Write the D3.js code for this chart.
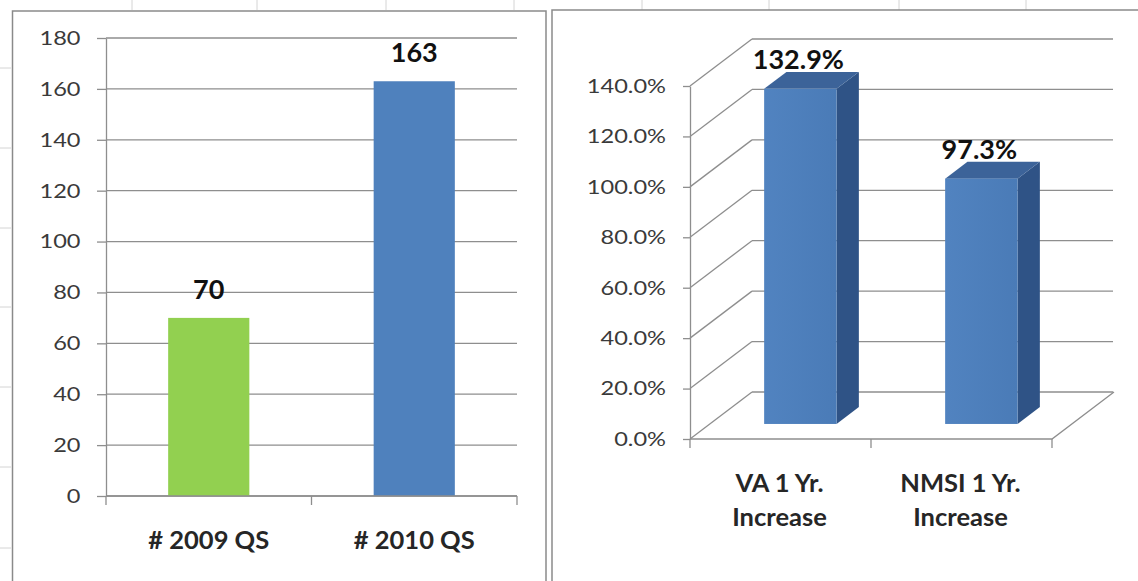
<!DOCTYPE html>
<html><head><meta charset="utf-8">
<script src="https://cdn.jsdelivr.net/npm/d3@7"></script>
<style>
body{margin:0;background:#fff}
svg{display:block}
text{font-family:Lato,"Open Sans",sans-serif}
</style>
</head><body>
<svg id="c" width="1138" height="581"></svg>
<script>
// ---------- data ----------
const leftCategories = ["# 2009 QS", "# 2010 QS"];
const leftValues = [70, 163];
const leftColors = ["#92D050", "#4F81BD"];
const leftTicks = [0, 20, 40, 60, 80, 100, 120, 140, 160, 180];

const rightCategories = ["VA 1 Yr. Increase", "NMSI 1 Yr. Increase"];
const rightLabelLines = [["VA 1 Yr.", "Increase"], ["NMSI 1 Yr.", "Increase"]];
const rightValues = [132.9, 97.3];
const rightTicks = [0, 20, 40, 60, 80, 100, 120, 140];

// ---------- setup ----------
const svg = d3.select("#c");
const gridCol = "#8e8e8e";
const faint = "#d4d4d4";
const tickScaleX = 1.18;

// faint spreadsheet cell lines peeking out
[132, 257, 386, 514, 642, 769, 899, 1026].forEach(x => {
  svg.append("line").attr("x1", x).attr("x2", x).attr("y1", 0).attr("y2", 10)
    .attr("stroke", faint).attr("stroke-width", 1);
});
[68, 148, 228, 307, 387, 467, 548].forEach(y => {
  svg.append("line").attr("x1", 0).attr("x2", 11).attr("y1", y).attr("y2", y)
    .attr("stroke", faint).attr("stroke-width", 1);
});

// panel borders
svg.append("rect").attr("x", 12.5).attr("y", 11).attr("width", 533.5).attr("height", 600)
  .attr("fill", "#fff").attr("stroke", "#8a8a8a").attr("stroke-width", 1.5);
svg.append("rect").attr("x", 552).attr("y", 10).attr("width", 600).attr("height", 600)
  .attr("fill", "#fff").attr("stroke", "#8a8a8a").attr("stroke-width", 1.5);

function styleTicks(ax, dist, size) {
  ax.selectAll("path,line").attr("stroke", gridCol).attr("stroke-width", 1.3);
  ax.selectAll("text").attr("font-size", size).attr("fill", "#3a3a3a")
    .attr("font-family", "Lato,'Open Sans',sans-serif")
    .attr("x", -dist / tickScaleX)
    .attr("transform", `scale(${tickScaleX},1)`);
}

// ---------- left chart ----------
const L = svg.append("g");
const yL = d3.scaleLinear().domain([0, 180]).range([496, 38]);
const xL = d3.scaleBand().domain(leftCategories).range([106, 517]);

L.append("g").selectAll("line").data(leftTicks).join("line")
  .attr("x1", 106).attr("x2", 517)
  .attr("y1", d => yL(d)).attr("y2", d => yL(d))
  .attr("stroke", gridCol).attr("stroke-width", 1.3);

const barWL = xL.bandwidth() * 0.395;
L.append("g").selectAll("rect").data(leftCategories).join("rect")
  .attr("x", d => xL(d) + xL.bandwidth() / 2 - barWL / 2)
  .attr("width", barWL)
  .attr("y", (d, i) => yL(leftValues[i]))
  .attr("height", (d, i) => yL(0) - yL(leftValues[i]))
  .attr("fill", (d, i) => leftColors[i]);

const axL = L.append("g").attr("transform", "translate(106,0)")
  .call(d3.axisLeft(yL).tickValues(leftTicks).tickSize(9).tickSizeOuter(0));
styleTicks(axL, 25.5, 20);

// x axis line + boundary ticks
L.append("line").attr("x1", 106).attr("x2", 517).attr("y1", yL(0)).attr("y2", yL(0))
  .attr("stroke", gridCol).attr("stroke-width", 1.3);
const boundsL = leftCategories.map(d => xL(d)).concat([xL.range()[1]]);
L.append("g").selectAll("line").data(boundsL).join("line")
  .attr("x1", d => d).attr("x2", d => d).attr("y1", yL(0)).attr("y2", yL(0) + 9)
  .attr("stroke", gridCol).attr("stroke-width", 1.3);

L.append("g").selectAll("text").data(leftCategories).join("text")
  .attr("x", d => xL(d) + xL.bandwidth() / 2).attr("y", 549)
  .attr("text-anchor", "middle").attr("font-size", 25.5).attr("font-weight", "bold")
  .attr("fill", "#262626").text(d => d);

L.append("g").selectAll("text").data(leftCategories).join("text")
  .attr("x", d => xL(d) + xL.bandwidth() / 2)
  .attr("y", (d, i) => yL(leftValues[i]) - 19)
  .attr("text-anchor", "middle").attr("font-size", 27).attr("font-weight", "bold")
  .attr("fill", "#111").text((d, i) => leftValues[i]);

// ---------- right chart (3D) ----------
const R = svg.append("g");
const yR = d3.scaleLinear().domain([0, 140]).range([439, 86]);
const xR = d3.scaleBand().domain(rightCategories).range([690, 1052]);
const DX = 62, DY = -47;        // full depth offset
const backRight = 1113;

// side wall diagonals
R.append("g").selectAll("line").data(rightTicks).join("line")
  .attr("x1", 690).attr("y1", d => yR(d))
  .attr("x2", 690 + DX).attr("y2", d => yR(d) + DY)
  .attr("stroke", gridCol).attr("stroke-width", 1.3);
// back wall horizontals
R.append("g").selectAll("line").data(rightTicks).join("line")
  .attr("x1", 690 + DX).attr("x2", backRight)
  .attr("y1", d => yR(d) + DY).attr("y2", d => yR(d) + DY)
  .attr("stroke", gridCol).attr("stroke-width", 1.3);
// floor front + right edges
R.append("path")
  .attr("d", `M690,${yR(0)}L1052,${yR(0)}L${1052 + DX},${yR(0) + DY}`)
  .attr("fill", "none").attr("stroke", gridCol).attr("stroke-width", 1.3);

// y axis
const axR = R.append("g").attr("transform", "translate(690,0)")
  .call(d3.axisLeft(yR).tickValues(rightTicks).tickSize(7).tickSizeOuter(0)
    .tickFormat(d => d.toFixed(1) + "%"));
styleTicks(axR, 24, 20);

// category boundary ticks
const boundsR = rightCategories.map(d => xR(d)).concat([xR.range()[1]]);
R.append("g").selectAll("line").data(boundsR).join("line")
  .attr("x1", d => d).attr("x2", d => d).attr("y1", yR(0)).attr("y2", yR(0) + 9)
  .attr("stroke", gridCol).attr("stroke-width", 1.3);

// bars
const z0 = 0.32, z1 = 0.68;
const barWR = xR.bandwidth() * 0.4;
const P = (x, v, z) => [x + z * DX, yR(v) + z * DY];
const defs = svg.append("defs");
const gF = defs.append("linearGradient").attr("id", "gf").attr("x1", 0).attr("x2", 1);
gF.append("stop").attr("offset", 0).attr("stop-color", "#5183c0");
gF.append("stop").attr("offset", 1).attr("stop-color", "#4a7bb7");

rightCategories.forEach((c, i) => {
  const v = rightValues[i];
  const xa = xR(c) + xR.bandwidth() / 2 - barWR / 2;
  const xb = xa + barWR;
  const poly = pts => "M" + pts.map(p => p.join(",")).join("L") + "Z";
  R.append("path").attr("d", poly([P(xb, v, z0), P(xb, v, z1), P(xb, 0, z1), P(xb, 0, z0)]))
    .attr("fill", "#2f5386");
  R.append("path").attr("d", poly([P(xa, v, z0), P(xb, v, z0), P(xb, v, z1), P(xa, v, z1)]))
    .attr("fill", "#3c6399");
  const f0 = P(xa, v, z0), f1 = P(xb, 0, z0);
  R.append("rect").attr("x", f0[0]).attr("y", f0[1])
    .attr("width", f1[0] - f0[0]).attr("height", f1[1] - f0[1])
    .attr("fill", "url(#gf)");
  R.append("text").attr("x", (f0[0] + f1[0]) / 2 - 2).attr("y", f0[1] - 20)
    .attr("text-anchor", "middle").attr("font-size", 27).attr("font-weight", "bold")
    .attr("fill", "#111").text(v.toFixed(1) + "%");
  const t = R.append("text").attr("text-anchor", "middle").attr("font-size", 25.5)
    .attr("font-weight", "bold").attr("fill", "#262626");
  rightLabelLines[i].forEach((ln, k) => {
    t.append("tspan").attr("x", xR(c) + xR.bandwidth() / 2 - 1).attr("y", 492 + k * 34).text(ln);
  });
});
</script>
</body></html>
